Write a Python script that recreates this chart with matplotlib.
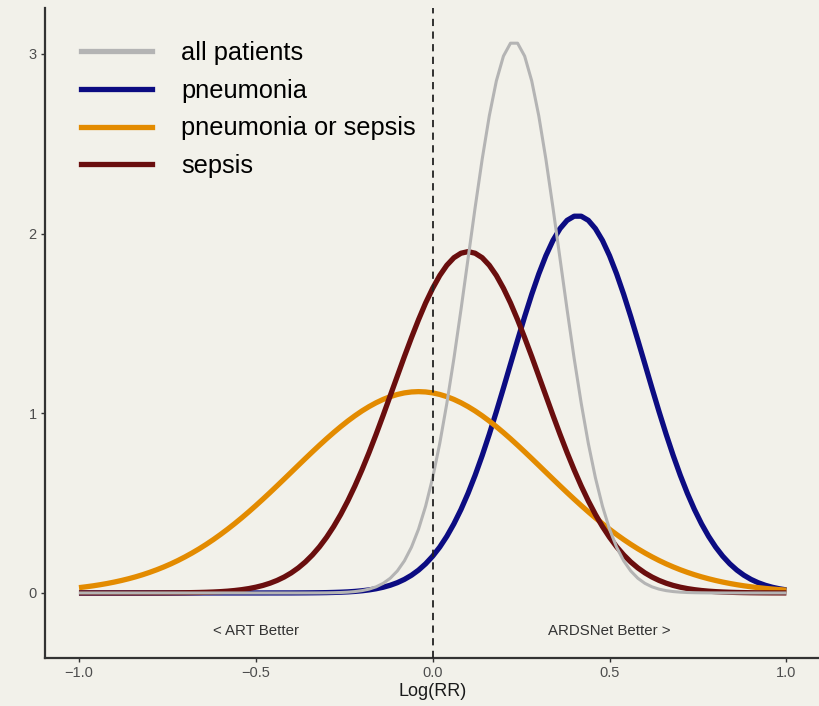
import numpy as np
import matplotlib
matplotlib.use("Agg")
import matplotlib.pyplot as plt
from matplotlib.lines import Line2D

plt.rcParams['font.family'] = ['Liberation Sans', 'DejaVu Sans']

# evaluation grid for the curves, log(RR) from -1 to 1 in steps of 0.02
log_rr = np.linspace(-1, 1, 101)

# posterior densities
all_patients = [
    0, 0, 0, 0, 0, 0, 0, 0, 0, 0,
    0, 0, 0, 0, 0, 0, 0, 0, 0, 0,
    0, 0, 0, 0, 0, 0, 0, 0, 0, 0,
    0, 0, 0.0001, 0.0002, 0.0004, 0.0008, 0.0014, 0.0025, 0.0045, 0.0077,
    0.0129, 0.0212, 0.0341, 0.0535, 0.0818, 0.1224, 0.1787, 0.2549, 0.3551, 0.4830,
    0.6416, 0.8325, 1.055, 1.305, 1.577, 1.861, 2.145, 2.415, 2.655, 2.850,
    2.988, 3.060, 3.060, 2.988, 2.850, 2.655, 2.415, 2.145, 1.861, 1.577,
    1.305, 1.055, 0.8325, 0.6416, 0.4830, 0.3551, 0.2549, 0.1787, 0.1224, 0.0818,
    0.0535, 0.0341, 0.0212, 0.0129, 0.0077, 0.0045, 0.0025, 0.0014, 0.0008, 0.0004,
    0.0002, 0.0001, 0, 0, 0, 0, 0, 0, 0, 0,
    0,
]
pneumonia = [
    0, 0, 0, 0, 0, 0, 0, 0, 0, 0,
    0, 0, 0, 0, 0, 0, 0, 0, 0, 0,
    0, 0, 0, 0, 0, 0, 0, 0.0001, 0.0001, 0.0002,
    0.0002, 0.0004, 0.0006, 0.0009, 0.0013, 0.0019, 0.0029, 0.0042, 0.0060, 0.0086,
    0.0121, 0.0169, 0.0233, 0.0318, 0.0429, 0.0572, 0.0755, 0.0985, 0.1271, 0.1622,
    0.2047, 0.2554, 0.3153, 0.3849, 0.4646, 0.5548, 0.6551, 0.7650, 0.8835, 1.009,
    1.140, 1.274, 1.407, 1.538, 1.662, 1.776, 1.877, 1.962, 2.028, 2.074,
    2.097, 2.097, 2.074, 2.028, 1.962, 1.877, 1.776, 1.662, 1.538, 1.407,
    1.274, 1.140, 1.009, 0.8835, 0.7650, 0.6551, 0.5548, 0.4646, 0.3849, 0.3153,
    0.2554, 0.2047, 0.1622, 0.1271, 0.0985, 0.0755, 0.0572, 0.0429, 0.0318, 0.0233,
    0.0169,
]
pneumonia_or_sepsis = [
    0.0295, 0.0343, 0.0397, 0.0459, 0.0528, 0.0606, 0.0693, 0.0790, 0.0897, 0.1016,
    0.1148, 0.1292, 0.1450, 0.1621, 0.1808, 0.2010, 0.2227, 0.2459, 0.2708, 0.2972,
    0.3252, 0.3547, 0.3856, 0.4179, 0.4515, 0.4863, 0.5221, 0.5587, 0.5961, 0.6339,
    0.6720, 0.7102, 0.7482, 0.7857, 0.8225, 0.8583, 0.8928, 0.9258, 0.9570, 0.9861,
    1.0130, 1.0372, 1.0587, 1.0773, 1.0927, 1.1048, 1.1136, 1.1188, 1.1206, 1.1188,
    1.1136, 1.1048, 1.0927, 1.0773, 1.0587, 1.0372, 1.0130, 0.9861, 0.9570, 0.9258,
    0.8928, 0.8583, 0.8225, 0.7857, 0.7482, 0.7102, 0.6720, 0.6339, 0.5961, 0.5587,
    0.5221, 0.4863, 0.4515, 0.4179, 0.3856, 0.3547, 0.3252, 0.2972, 0.2708, 0.2459,
    0.2227, 0.2010, 0.1808, 0.1621, 0.1450, 0.1292, 0.1148, 0.1016, 0.0897, 0.0790,
    0.0693, 0.0606, 0.0528, 0.0459, 0.0397, 0.0343, 0.0295, 0.0253, 0.0217, 0.0185,
    0.0157,
]
sepsis = [
    0, 0, 0, 0, 0, 0, 0, 0, 0.0001, 0.0001,
    0.0002, 0.0003, 0.0004, 0.0006, 0.0009, 0.0013, 0.0019, 0.0027, 0.0038, 0.0053,
    0.0073, 0.0100, 0.0136, 0.0183, 0.0243, 0.0321, 0.0419, 0.0543, 0.0697, 0.0886,
    0.1116, 0.1394, 0.1725, 0.2116, 0.2571, 0.3097, 0.3696, 0.4371, 0.5123, 0.5950,
    0.6849, 0.7811, 0.8829, 0.9889, 1.098, 1.207, 1.316, 1.421, 1.521, 1.614,
    1.696, 1.767, 1.824, 1.866, 1.891, 1.900, 1.891, 1.866, 1.824, 1.767,
    1.696, 1.614, 1.521, 1.421, 1.316, 1.207, 1.098, 0.9889, 0.8829, 0.7811,
    0.6849, 0.5950, 0.5123, 0.4371, 0.3696, 0.3097, 0.2571, 0.2116, 0.1725, 0.1394,
    0.1116, 0.0886, 0.0697, 0.0543, 0.0419, 0.0321, 0.0243, 0.0183, 0.0136, 0.0100,
    0.0073, 0.0053, 0.0038, 0.0027, 0.0019, 0.0013, 0.0009, 0.0006, 0.0004, 0.0003,
    0.0002,
]

labels = ["all patients", "pneumonia", "pneumonia or sepsis", "sepsis"]
colors = ["#b4b4b4", "#0c0c82", "#e38b00", "#6a0e0e"]
widths = [2.2, 3.8, 3.8, 3.8]
series = [all_patients, pneumonia, pneumonia_or_sepsis, sepsis]

bg = "#f2f1ea"
fig = plt.figure(figsize=(8.2, 7.06), dpi=100, facecolor=bg)
ax = fig.add_axes([0.0549, 0.068, 0.9451, 0.9207], facecolor=bg)

# draw order as in the picture: navy, orange, sepsis, grey on top
for z, idx in enumerate([1, 2, 3, 0]):
    ax.plot(log_rr, series[idx], color=colors[idx], lw=widths[idx],
            solid_capstyle="butt", zorder=3 + z)

ax.axvline(0, color="#222222", lw=1.3, linestyle=(0, (4, 3)), zorder=10)

ax.text(-0.5, -0.21, "< ART Better", ha="center", va="center",
        fontsize=10.8, color="#333333")
ax.text(0.5, -0.21, "ARDSNet Better >", ha="center", va="center",
        fontsize=10.8, color="#333333")

ax.set_xlim(-1.096, 1.095)
ax.set_ylim(-0.362, 3.256)
ax.set_xticks([-1.0, -0.5, 0.0, 0.5, 1.0])
ax.set_xticklabels(["\u22121.0", "\u22120.5", "0.0", "0.5", "1.0"])
ax.set_yticks([0, 1, 2, 3])
ax.tick_params(axis="both", length=3, width=1, color="#333333",
               labelcolor="#4d4d4d", labelsize=10.5, pad=3)
ax.set_xlabel("Log(RR)", fontsize=13, color="#1a1a1a", labelpad=2)

for side in ["top", "right"]:
    ax.spines[side].set_visible(False)
for side in ["left", "bottom"]:
    ax.spines[side].set_color("#333333")
    ax.spines[side].set_linewidth(1.6)

handles = [Line2D([0], [0], color=c, lw=3.8) for c in colors]
ax.legend(handles, labels, loc="upper left", bbox_to_anchor=(0.0465, 0.9488),
          frameon=False, fontsize=18.3, handlelength=2.78, handletextpad=1.16,
          labelspacing=0.535, borderpad=0, borderaxespad=0)

fig.savefig("out.png", dpi=100, facecolor=bg)
